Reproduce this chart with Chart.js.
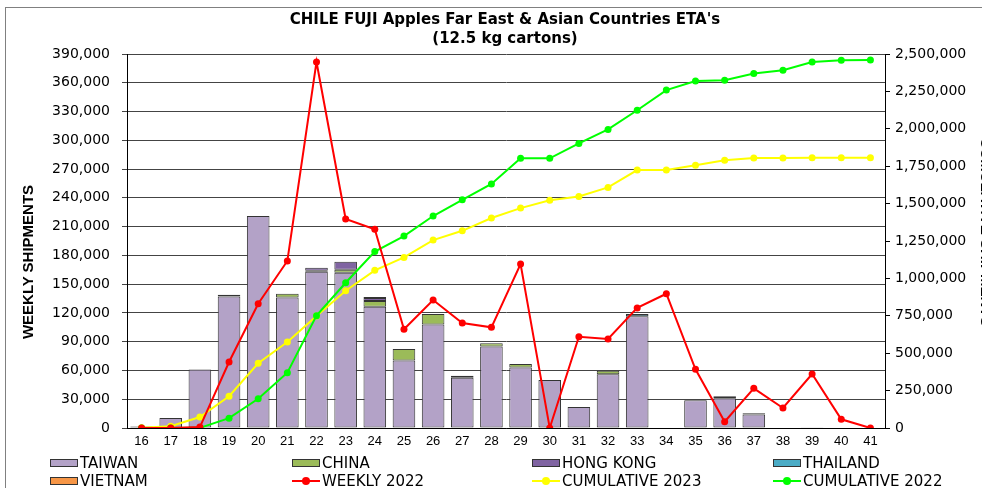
<!DOCTYPE html>
<html>
<head>
<meta charset="utf-8">
<script src="https://cdn.jsdelivr.net/npm/chart.js@4.4.1/dist/chart.umd.min.js"></script>
<style>
  html, body { margin: 0; padding: 0; background: #fff; }
  #wrap { position: relative; width: 982px; height: 488px; overflow: hidden; }
  #frame { position: absolute; left: 5px; top: 7px; width: 1000px; height: 500px;
           border-left: 1px solid #808080; border-top: 1px solid #808080; }
  #title { position: absolute; left: 0; top: 10px; width: 1010px; text-align: center;
           font: bold 15px "DejaVu Sans", sans-serif; line-height: 19px; color: #000; }
  .ytitle { position: absolute; font: bold 15px "Liberation Sans Narrow", "Liberation Sans", sans-serif;
            white-space: nowrap; color: #000; }
  #yl { left: 27px; top: 262px; transform: translate(-50%, -50%) rotate(-90deg); }
  #yr { left: 986px; top: 232px; transform: translate(-50%, -50%) rotate(90deg); }
  #legend { position: absolute; left: 0; top: 0; }
  .item { position: absolute; height: 18px; line-height: 18px; font: 15px "DejaVu Sans", sans-serif;
          color: #000; white-space: nowrap; }
  .box { display: inline-block; width: 26px; height: 6px; border: 1px solid #333; vertical-align: middle;
         margin-right: 2px; position: relative; top: -1px; }
  .ln { display: inline-block; width: 28px; height: 10px; vertical-align: middle; margin-right: 2px;
        position: relative; top: -1px; }
  .ln::before { content: ""; position: absolute; left: 0; right: 0; top: 4px; height: 2px; background: var(--c); }
  .ln::after { content: ""; position: absolute; left: 10px; top: 1px; width: 8px; height: 8px;
               border-radius: 50%; background: var(--c); }
</style>
</head>
<body>
<div id="wrap">
  <canvas id="chart" width="982" height="488"></canvas>
  <div id="frame"></div>
  <div id="title">CHILE FUJI Apples Far East &amp; Asian Countries ETA's<br>(12.5 kg cartons)</div>
  <div class="ytitle" id="yl">WEEKLY SHIPMENTS</div>
  <div class="ytitle" id="yr">CUMULATIVE SHIPMENTS</div>
  <div id="legend"></div>
</div>
<script>
const weeks = ['16', '17', '18', '19', '20', '21', '22', '23', '24', '25', '26', '27', '28',
               '29', '30', '31', '32', '33', '34', '35', '36', '37', '38', '39', '40', '41'];

const taiwan = [1500, 10500, 61000, 137000, 221000, 136000, 163000, 162000, 126500, 70500, 108000, 52500, 85000,
                63000, 50000, 22000, 56000, 116500, 0, 29000, 31000, 14000, 0, 800, 0, 0];
const china = [0, 0, 0, 2000, 0, 4000, 1000, 3000, 6000, 11800, 11000, 2000, 3500,
               3800, 0, 0, 3800, 0, 0, 0, 0, 0, 0, 0, 0, 0];
const hongKong = [0, 0, 0, 0, 0, 0, 3000, 8300, 3000, 0, 0, 0, 0,
                  0, 0, 0, 0, 0, 0, 0, 0, 0, 0, 0, 0, 0];
const thailand = [0, 0, 0, 0, 0, 0, 0, 0, 0, 0, 0, 0, 0,
                  0, 0, 0, 0, 2500, 0, 0, 2000, 0, 0, 0, 0, 0];
const vietnam = [0, 0, 0, 0, 0, 0, 0, 0, 1000, 0, 0, 0, 0,
                 0, 0, 0, 0, 0, 0, 0, 0, 1500, 0, 0, 0, 0];

const weekly2022 = [0, 0, 1000, 68800, 129600, 174200, 381700, 218000, 207200, 102900, 133500, 109500, 105000,
                    171000, 0, 95200, 92800, 125200, 140000, 61200, 6600, 41400, 20900, 56300, 9100, 0];
const cumulative2023 = [1500, 12000, 73000, 212000, 433000, 575000, 749000, 918000, 1054000, 1140000, 1256000,
                        1318000, 1404000, 1470000, 1522000, 1548000, 1608000, 1724000, 1724000, 1756000,
                        1790000, 1805000, 1805000, 1806000, 1806000, 1806000];
const cumulative2022 = [0, 0, 1000, 66000, 195000, 370000, 751000, 971000, 1179000, 1283000, 1417000, 1525000,
                        1631000, 1803000, 1803000, 1902000, 1996000, 2124000, 2259000, 2319000, 2324000,
                        2370000, 2392000, 2446000, 2458000, 2460000];

const leftTicks = { max: 390000, step: 30000 };
const rightTicks = { max: 2500000, step: 250000 };

// empty stack segments are left out so they draw no border line
function bar(label, data, color) {
    return {
        type: 'bar', label: label, data: data.map(v => v || null), backgroundColor: color,
        borderColor: '#333', borderWidth: 1, borderSkipped: false,
        stack: 's', yAxisID: 'y', order: 10,
        categoryPercentage: 1, barPercentage: 0.775
    };
}
function line(label, data, color, axis, order) {
    return {
        type: 'line', label: label, data: data, borderColor: color, backgroundColor: color,
        borderWidth: 2, pointRadius: 3.5, pointBorderWidth: 0, tension: 0,
        yAxisID: axis, order: order
    };
}

const datasets = [
    bar('TAIWAN', taiwan, '#B3A2C7'),
    bar('CHINA', china, '#9BBB59'),
    bar('HONG KONG', hongKong, '#8064A2'),
    bar('THAILAND', thailand, '#4BACC6'),
    bar('VIETNAM', vietnam, '#F79646'),
    line('WEEKLY 2022', weekly2022, '#FF0000', 'y', 1),
    line('CUMULATIVE 2023', cumulative2023, '#FFFF00', 'y1', 3),
    line('CUMULATIVE 2022', cumulative2022, '#00FF00', 'y1', 2)
];

const fmt = v => Number(v).toLocaleString('en-US');

new Chart(document.getElementById('chart').getContext('2d'), {
    data: { labels: weeks, datasets: datasets },
    options: {
        responsive: false,
        animation: false,
        events: [],
        layout: { padding: { top: 54, left: 0, right: 0, bottom: 0 } },
        plugins: { legend: { display: false }, tooltip: { enabled: false } },
        scales: {
            x: {
                stacked: true,
                afterFit: s => { s.height = 60; },
                grid: { display: true, drawOnChartArea: false, drawTicks: false },
                border: { color: '#000', width: 1 },
                ticks: { padding: 6, color: '#000', font: { family: 'Liberation Sans', size: 13 } }
            },
            y: {
                position: 'left',
                stacked: true,
                min: 0, max: leftTicks.max,
                afterFit: s => { s.width = 127; },
                grid: { color: '#444', tickLength: 5 },
                border: { color: '#000', width: 1 },
                ticks: { stepSize: leftTicks.step, padding: 12, color: '#000', callback: fmt,
                         font: { family: 'DejaVu Sans', size: 14 } }
            },
            y1: {
                position: 'right',
                min: 0, max: rightTicks.max,
                afterFit: s => { s.width = 97; },
                grid: { drawOnChartArea: false, color: '#000', tickLength: 5 },
                border: { color: '#000', width: 1 },
                ticks: { stepSize: rightTicks.step, padding: 5, color: '#000', callback: fmt,
                         font: { family: 'DejaVu Sans', size: 14 } }
            }
        }
    }
});

// legend in four fixed columns, two rows
const legendCols = [50, 292, 532, 773];
const legendRows = [454, 472];
const legend = document.getElementById('legend');
datasets.forEach((d, i) => {
    const el = document.createElement('div');
    el.className = 'item';
    el.style.left = legendCols[i % 4] + 'px';
    el.style.top = legendRows[Math.floor(i / 4)] + 'px';
    const sw = document.createElement('span');
    if (d.type === 'bar') {
        sw.className = 'box';
        sw.style.background = d.backgroundColor;
    } else {
        sw.className = 'ln';
        sw.style.setProperty('--c', d.borderColor);
    }
    el.appendChild(sw);
    el.appendChild(document.createTextNode(d.label));
    legend.appendChild(el);
});
</script>
</body>
</html>
